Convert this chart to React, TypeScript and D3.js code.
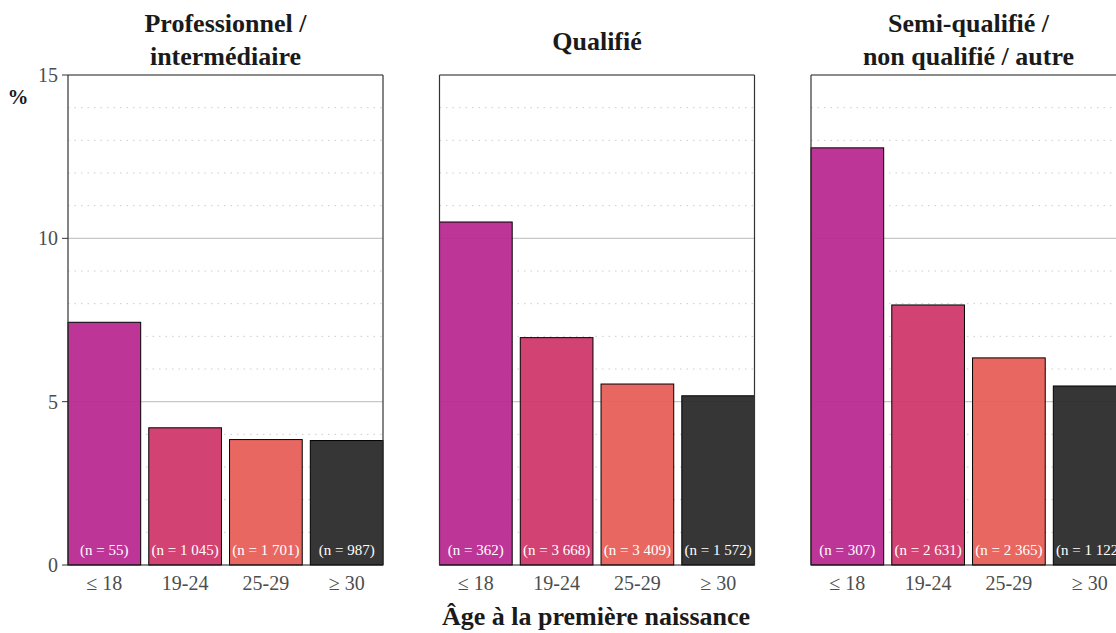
import React from "react";
import * as d3 from "d3";

const panels = ["Professionnel / intermédiaire", "Qualifié", "Semi-qualifié / non qualifié / autre"];
const panelTitleLines = [["Professionnel /", "intermédiaire"], ["Qualifié"], ["Semi-qualifié /", "non qualifié / autre"]];
const ageGroups = ["≤ 18", "19-24", "25-29", "≥ 30"];
const values = [
  [7.43, 4.2, 3.84, 3.81],
  [10.5, 6.96, 5.54, 5.18],
  [12.77, 7.96, 6.34, 5.48],
];
const counts = [
  ["55", "1 045", "1 701", "987"],
  ["362", "3 668", "3 409", "1 572"],
  ["307", "2 631", "2 365", "1 122"],
];
const yTicks = [0, 5, 10, 15];
const minorTicks = [1, 2, 3, 4, 6, 7, 8, 9, 11, 12, 13, 14];
const colors = ["#bb2a92", "#d0386a", "#e85f58", "#2b2b2b"];

const FONT = "'Liberation Serif', 'DejaVu Serif', serif";

export default function App() {
  const W = 1116, H = 633;
  const top = 75, bottom = 565;
  const panelW = 315;
  const panelX = [68, 439.5, 811];
  const y = d3.scaleLinear().domain([0, 15]).range([bottom, top]);
  const x = d3.scaleBand<string>().domain(ageGroups).range([0, panelW]).paddingInner(0.1).paddingOuter(0);

  return (
    <svg width={W} height={H} style={{ position: "absolute", left: 0, top: 0, background: "#fff" }} fontFamily={FONT}>
      {/* y axis label */}
      <text x={18} y={104} fontSize={21} fontWeight="bold" textAnchor="middle" fill="#1a1a1a">%</text>
      {/* y tick labels */}
      {yTicks.map((t) => (
        <g key={t}>
          <text x={58} y={y(t) + 7} fontSize={20} textAnchor="end" fill="#4d4d4d">{t}</text>
          <line x1={62} x2={68} y1={y(t)} y2={y(t)} stroke="#333" strokeWidth={1} />
        </g>
      ))}
      {panels.map((p, pi) => {
        const px = panelX[pi];
        const lines = panelTitleLines[pi];
        return (
          <g key={p} transform={`translate(${px},0)`}>
            {/* title */}
            {lines.length === 2 ? (
              <>
                <text x={panelW / 2} y={32} fontSize={26} fontWeight="bold" textAnchor="middle" fill="#1a1a1a">{lines[0]}</text>
                <text x={panelW / 2} y={65} fontSize={26} fontWeight="bold" textAnchor="middle" fill="#1a1a1a">{lines[1]}</text>
              </>
            ) : (
              <text x={panelW / 2} y={50} fontSize={26} fontWeight="bold" textAnchor="middle" fill="#1a1a1a">{lines[0]}</text>
            )}
            {/* grid */}
            {minorTicks.map((t) => (
              <line key={"m" + t} x1={0} x2={panelW} y1={y(t)} y2={y(t)} stroke="#cccccc" strokeWidth={1} strokeDasharray="1.5 5" />
            ))}
            {[5, 10].map((t) => (
              <line key={"M" + t} x1={0} x2={panelW} y1={y(t)} y2={y(t)} stroke="#c8c8c8" strokeWidth={1.2} />
            ))}
            {/* bars */}
            {ageGroups.map((a, i) => (
              <g key={a}>
                <rect
                  x={x(a)!}
                  y={y(values[pi][i])}
                  width={x.bandwidth()}
                  height={bottom - y(values[pi][i])}
                  fill={colors[i]}
                  fillOpacity={0.95}
                  stroke="#000"
                  strokeWidth={1}
                />
                <text x={x(a)! + x.bandwidth() / 2} y={555} fontSize={15} textAnchor="middle" fill="#ffffff">
                  (n = {counts[pi][i]})
                </text>
                <text x={x(a)! + x.bandwidth() / 2} y={590} fontSize={20} textAnchor="middle" fill="#4d4d4d">{a}</text>
              </g>
            ))}
            {/* frame */}
            <line x1={0} x2={panelW} y1={top} y2={top} stroke="#1a1a1a" strokeWidth={1.2} />
            <line x1={0} x2={0} y1={top} y2={bottom} stroke="#333" strokeWidth={1.2} />
            <line x1={panelW} x2={panelW} y1={top} y2={bottom} stroke="#333" strokeWidth={1.2} />
            <line x1={0} x2={panelW} y1={bottom} y2={bottom} stroke="#1a1a1a" strokeWidth={1.2} />
          </g>
        );
      })}
      <text x={596} y={625} fontSize={26} fontWeight="bold" textAnchor="middle" fill="#1a1a1a">Âge à la première naissance</text>
    </svg>
  );
}
